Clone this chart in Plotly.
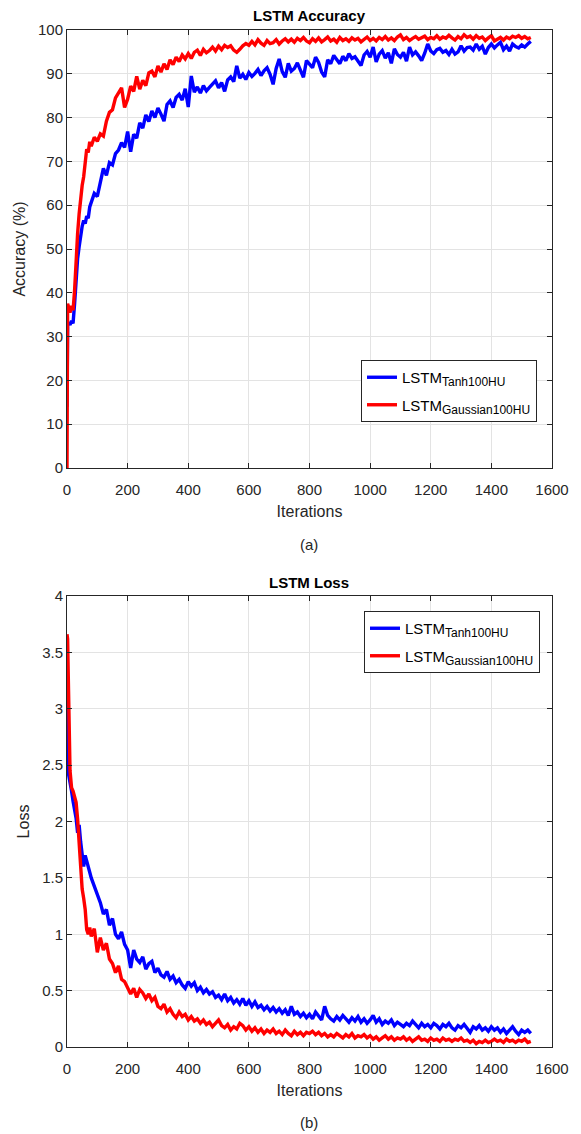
import plotly.graph_objects as go

# ---------------- data ----------------
iterations = [0, 2, 5, 10, 15, 20, 25, 30, 35, 40, 45, 50, 55, 60, 65, 70, 75,
              80, 90, 100, 110, 120, 130, 140, 150, 160, 170,
              180, 190, 200, 210, 220, 230, 240, 250, 260, 270,
              280, 290, 300, 310, 320, 330, 340, 350, 360, 370,
              380, 390, 400, 410, 420, 430, 440, 450, 460, 470,
              480, 490, 500, 510, 520, 530, 540, 550, 560, 570,
              580, 590, 600, 610, 620, 630, 640, 650, 660, 670,
              680, 690, 700, 710, 720, 730, 740, 750, 760, 770,
              780, 790, 800, 810, 820, 830, 840, 850, 860, 870,
              880, 890, 900, 910, 920, 930, 940, 950, 960, 970,
              980, 990, 1000, 1010, 1020, 1030, 1040, 1050, 1060, 1070,
              1080, 1090, 1100, 1110, 1120, 1130, 1140, 1150, 1160, 1170,
              1180, 1190, 1200, 1210, 1220, 1230, 1240, 1250, 1260, 1270,
              1280, 1290, 1300, 1310, 1320, 1330, 1340, 1350, 1360, 1370,
              1380, 1390, 1400, 1410, 1420, 1430, 1440, 1450, 1460, 1470,
              1480, 1490, 1500, 1510, 1520, 1530]

acc_tanh = [14.0, 32.5, 33.2, 32.7, 33.6, 33.0, 37.5, 43.0, 47.8, 50.5, 53.0, 55.2, 56.5, 55.8, 57.5, 57.0, 59.6,
            60.8, 62.7, 62.0, 65.2, 68.4, 66.8, 69.7, 69.2, 71.8, 72.6,
            74.3, 73.2, 76.8, 72.2, 76.2, 75.3, 78.8, 77.6, 80.6, 79.1,
            81.5, 80.0, 82.2, 80.8, 79.2, 83.0, 83.8, 82.3, 84.6, 85.3,
            84.0, 86.6, 82.4, 89.5, 85.8, 87.0, 85.6, 87.3, 86.1, 86.9,
            87.7, 88.4, 86.8, 88.0, 86.0, 88.6, 89.3, 88.2, 91.8, 89.0,
            89.9, 88.7, 90.3, 89.4, 90.1, 91.0, 89.6, 90.7, 91.4, 89.9,
            87.6, 91.2, 93.4, 90.5, 89.2, 92.4, 90.6, 91.2, 92.5, 91.0,
            89.2, 93.0, 92.1, 91.4, 93.8, 92.6, 90.4, 89.3, 93.2, 92.3,
            94.2, 93.1, 92.3, 94.0, 93.0, 94.6, 93.5, 93.9, 92.8, 91.9,
            94.3, 95.1, 93.8, 96.1, 92.7, 94.5, 95.3, 93.6, 94.8, 92.4,
            95.7, 94.4, 93.8, 94.9, 92.9, 96.1, 94.3, 95.0, 94.1, 93.0,
            94.7, 96.8, 95.2, 94.6, 95.5, 95.8, 94.9, 95.3, 94.4, 95.6,
            94.5, 95.0, 96.4, 95.2, 96.0, 96.1, 95.4, 96.8, 95.6, 96.3,
            94.5, 96.0, 96.8, 95.9, 96.6, 97.2, 95.5, 96.3, 95.2, 96.8,
            96.2, 95.9, 96.6, 96.1, 96.8, 97.4]

acc_gauss = [0.0, 37.5, 36.8, 35.5, 37.0, 36.0, 40.5, 48.0, 53.5, 58.0, 61.5, 64.5, 66.5, 70.5, 72.8, 72.0, 74.5,
             73.5, 75.5, 74.6, 76.3, 75.8, 79.2, 81.2, 81.8, 84.5, 85.8,
             86.8, 82.3, 84.2, 87.2, 86.0, 89.4, 86.5, 88.5, 87.3, 90.2,
             90.6, 89.3, 91.8, 90.4, 92.3, 91.0, 93.2, 92.1, 93.8, 92.8,
             94.3, 93.4, 94.6, 93.5, 94.9, 95.4, 94.2, 95.6, 94.8, 95.3,
             96.1, 95.2, 96.3, 95.5, 96.5, 96.0, 96.4, 95.4, 94.9, 95.6,
             96.4, 96.9, 96.5, 97.4, 96.6, 97.8, 97.0, 96.5, 97.6, 96.9,
             97.1, 97.8, 96.8, 97.5, 98.0, 97.3, 97.9, 97.2, 98.1, 97.6,
             98.3, 97.5, 97.1, 98.0, 97.4, 98.2, 97.3, 97.8, 98.4, 97.5,
             97.9, 97.2, 98.3, 97.6, 98.0, 97.4, 98.2, 97.7, 98.1, 97.3,
             97.9, 98.4, 97.6, 98.1, 97.5, 98.3, 97.8, 98.5, 97.7, 98.2,
             97.6, 98.4, 98.9, 97.8, 98.3, 97.6, 98.1, 98.5, 97.9, 98.2,
             98.6, 97.8, 98.3, 98.0, 98.7, 97.9, 98.4, 98.1, 98.8, 98.2,
             97.7, 98.5, 98.0, 98.9, 98.3, 98.6, 97.9, 98.7, 98.1, 98.4,
             97.6, 98.2, 98.7, 97.5, 97.9, 98.3, 97.7, 98.4, 98.0, 98.6,
             98.3, 98.7, 98.1, 98.5, 98.0, 98.3]

loss_tanh = [3.45, 2.50, 2.42, 2.32, 2.27, 2.18, 2.12, 2.03, 1.90, 1.97, 1.82, 1.72, 1.60, 1.70, 1.64, 1.58, 1.55,
             1.50, 1.43, 1.34, 1.28, 1.18, 1.22, 1.08, 1.14, 1.00, 0.96,
             1.02, 0.91, 0.86, 0.70, 0.86, 0.78, 0.75, 0.80, 0.69, 0.74,
             0.76, 0.66, 0.70, 0.64, 0.62, 0.67, 0.60, 0.63, 0.57, 0.60,
             0.55, 0.52, 0.58, 0.54, 0.57, 0.50, 0.53, 0.48, 0.51, 0.47,
             0.49, 0.44, 0.46, 0.42, 0.47, 0.41, 0.44, 0.39, 0.42, 0.38,
             0.43, 0.37, 0.41, 0.36, 0.40, 0.35, 0.37, 0.33, 0.36, 0.32,
             0.35, 0.31, 0.34, 0.30, 0.33, 0.28, 0.36, 0.29, 0.31, 0.27,
             0.30, 0.26, 0.29, 0.25, 0.31, 0.27, 0.24, 0.36, 0.28, 0.25,
             0.23, 0.27, 0.24, 0.28, 0.25, 0.22, 0.26, 0.23, 0.27, 0.22,
             0.25, 0.21, 0.24, 0.28, 0.22, 0.25, 0.20, 0.23, 0.21, 0.24,
             0.19, 0.22, 0.20, 0.18, 0.21, 0.19, 0.23, 0.20, 0.17, 0.21,
             0.18, 0.20, 0.17, 0.21, 0.19, 0.16, 0.20, 0.18, 0.21, 0.17,
             0.15, 0.19, 0.17, 0.20, 0.16, 0.13, 0.18, 0.16, 0.19, 0.15,
             0.17, 0.14, 0.18, 0.15, 0.17, 0.13, 0.16, 0.12, 0.15, 0.18,
             0.14, 0.11, 0.15, 0.13, 0.15, 0.12]

loss_gauss = [3.66, 3.62, 3.17, 2.45, 2.30, 2.27, 2.22, 2.17, 2.02, 1.80, 1.56, 1.40, 1.32, 1.22, 1.04, 1.00, 1.06,
              0.98, 1.05, 0.84, 0.97, 0.86, 0.92, 0.78, 0.74, 0.66, 0.72,
              0.60, 0.58, 0.53, 0.47, 0.52, 0.44, 0.51, 0.48, 0.43, 0.47,
              0.41, 0.44, 0.36, 0.34, 0.38, 0.31, 0.34, 0.29, 0.26, 0.31,
              0.27, 0.29, 0.24, 0.27, 0.23, 0.25, 0.21, 0.24, 0.20, 0.22,
              0.18, 0.21, 0.24, 0.19, 0.17, 0.20, 0.15, 0.18, 0.16, 0.21,
              0.19, 0.15, 0.18, 0.14, 0.17, 0.13, 0.16, 0.12, 0.15, 0.13,
              0.16, 0.12, 0.14, 0.11, 0.15, 0.12, 0.10, 0.14, 0.11, 0.13,
              0.10, 0.13, 0.12, 0.14, 0.11, 0.13, 0.10, 0.12, 0.09, 0.11,
              0.09, 0.12, 0.10, 0.08, 0.11, 0.09, 0.12, 0.08, 0.10, 0.09,
              0.11, 0.08, 0.10, 0.07, 0.09, 0.06, 0.08, 0.10, 0.07, 0.09,
              0.06, 0.08, 0.07, 0.09, 0.06, 0.08, 0.05, 0.07, 0.09, 0.06,
              0.07, 0.05, 0.08, 0.06, 0.07, 0.05, 0.08, 0.06, 0.07, 0.05,
              0.07, 0.06, 0.08, 0.05, 0.06, 0.04, 0.06, 0.03, 0.05, 0.04,
              0.06, 0.04, 0.05, 0.07, 0.05, 0.06, 0.04, 0.07, 0.05, 0.06,
              0.04, 0.06, 0.05, 0.07, 0.04, 0.05]

name_tanh = "LSTM<sub><span style='font-size:12px'>Tanh100HU</span></sub>"
name_gauss = "LSTM<sub><span style='font-size:12px'>Gaussian100HU</span></sub>"
x_ticks = [0, 200, 400, 600, 800, 1000, 1200, 1400, 1600]
acc_ticks = [0, 10, 20, 30, 40, 50, 60, 70, 80, 90, 100]
loss_ticks = [0, 0.5, 1, 1.5, 2, 2.5, 3, 3.5, 4]

# ---------------- figure ----------------
W, H = 581, 1134
FONT = "Liberation Sans, Arial, Helvetica, sans-serif"
AX = "#262626"
GRID = "#e3e3e3"
BLUE = "#0000ff"
RED = "#ff0000"

fig = go.Figure()
fig.add_trace(go.Scatter(x=iterations, y=acc_tanh, mode="lines", name=name_tanh, legendgroup="a1",
                         line=dict(color=BLUE, width=3.4), xaxis="x", yaxis="y", legend="legend"))
fig.add_trace(go.Scatter(x=iterations, y=acc_gauss, mode="lines", name=name_gauss, legendgroup="a2",
                         line=dict(color=RED, width=3.4), xaxis="x", yaxis="y", legend="legend"))
fig.add_trace(go.Scatter(x=iterations, y=loss_tanh, mode="lines", name=name_tanh, legendgroup="b1",
                         line=dict(color=BLUE, width=3.4), xaxis="x2", yaxis="y2", legend="legend2"))
fig.add_trace(go.Scatter(x=iterations, y=loss_gauss, mode="lines", name=name_gauss, legendgroup="b2",
                         line=dict(color=RED, width=3.4), xaxis="x2", yaxis="y2", legend="legend2"))

def px_x(p):
    return p / W

def px_y(p):
    return 1 - p / H

common = dict(showline=True, linecolor=AX, linewidth=1, mirror="ticks", ticks="inside",
              ticklen=5, tickcolor=AX, showgrid=True, gridcolor=GRID, gridwidth=1,
              zeroline=False, automargin=False,
              tickfont=dict(family=FONT, size=15, color=AX))

xdom = [px_x(67), px_x(552)]
fig.update_layout(
    width=W, height=H, margin=dict(l=0, r=0, t=0, b=0, autoexpand=False),
    paper_bgcolor="white", plot_bgcolor="white",
    font=dict(family=FONT, color=AX),
    xaxis=dict(domain=xdom, range=[0, 1600], tickvals=x_ticks, anchor="y", ticklabelstandoff=8,
               title=dict(text="Iterations", font=dict(size=16, color=AX), standoff=8), **common),
    yaxis=dict(domain=[px_y(468), px_y(30)], range=[0, 100], tickvals=acc_ticks, anchor="x",
               title=dict(text="Accuracy (%)", font=dict(size=16, color=AX), standoff=8), **common),
    xaxis2=dict(domain=xdom, range=[0, 1600], tickvals=x_ticks, anchor="y2", ticklabelstandoff=8,
                title=dict(text="Iterations", font=dict(size=16, color=AX), standoff=8), **common),
    yaxis2=dict(domain=[px_y(1047), px_y(596)], range=[0, 4], tickvals=loss_ticks, anchor="x2",
                title=dict(text="Loss", font=dict(size=16, color=AX), standoff=8), **common),
    legend=dict(x=px_x(537), y=px_y(360), xanchor="right", yanchor="top",
                bgcolor="white", bordercolor=AX, borderwidth=1,
                font=dict(family=FONT, size=15, color="black"), tracegroupgap=5),
    legend2=dict(x=px_x(540), y=px_y(611), xanchor="right", yanchor="top",
                 bgcolor="white", bordercolor=AX, borderwidth=1,
                 font=dict(family=FONT, size=15, color="black"), tracegroupgap=5),
    showlegend=True,
)

annos = [
    ("<b>LSTM Accuracy</b>", 309, 15, 15),
    ("(a)", 309, 545, 15),
    ("<b>LSTM Loss</b>", 309, 582, 15),
    ("(b)", 309, 1122, 15),
]
for text, x, y, size in annos:
    fig.add_annotation(text=text, x=px_x(x), y=px_y(y), xref="paper", yref="paper",
                       xanchor="center", yanchor="middle", showarrow=False,
                       font=dict(family=FONT, size=size, color="black" if "<b>" in text else AX))

fig.write_html("out.html", config={"displayModeBar": False},
               post_script="document.body.style.margin='0';document.body.style.padding='0';")
